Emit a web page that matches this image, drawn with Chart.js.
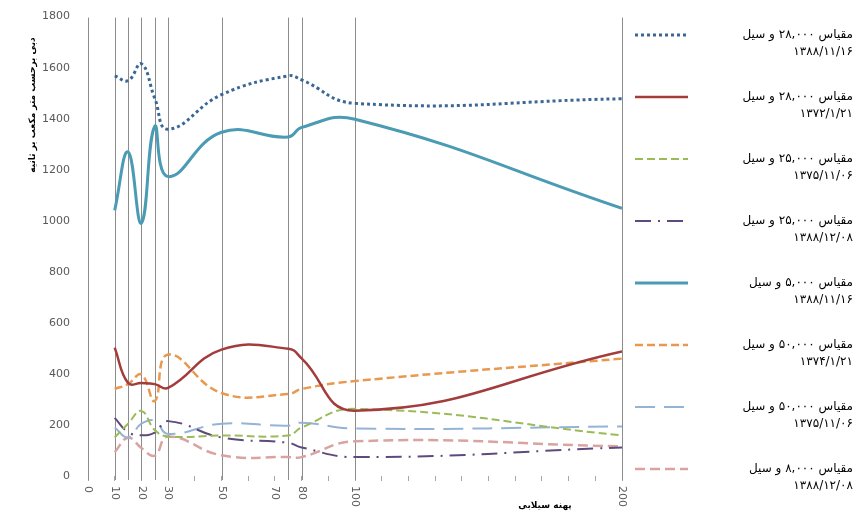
<!DOCTYPE html>
<html>
<head>
<meta charset="utf-8">
<script src="https://cdn.jsdelivr.net/npm/chart.js@4.4.1/dist/chart.umd.min.js"></script>
<style>
  html, body { margin: 0; padding: 0; background: #fff; }
  #wrap { position: relative; width: 858px; height: 515px; }
</style>
</head>
<body>
<div id="wrap"><canvas id="c" width="858" height="515"></canvas></div>
<script>
// ---- Data (discharge in m3/s at each cross-section station) ----
var STATIONS   = [10, 15, 20, 25, 30, 50, 75, 80, 100, 200];
var GRID_LINES = [0, 10, 15, 20, 25, 30, 50, 75, 80, 100, 200];
var X_LABELS   = [0, 10, 20, 30, 50, 70, 80, 100, 200];

var S1_DOTTED = [1568, 1549, 1615, 1480, 1359, 1494, 1568, 1552, 1460, 1478];
var S2_RED    = [503, 364, 364, 360, 345, 495, 499, 461, 256, 488];
var S3_GREEN  = [151, 205, 255, 180, 155, 159, 159, 190, 263, 159];
var S4_PURPLE = [228, 172, 160, 170, 215, 151, 130, 112, 74, 112];
var S5_TEAL   = [1041, 1270, 991, 1370, 1173, 1347, 1328, 1366, 1398, 1049];
var S6_ORANGE = [341, 360, 398, 294, 476, 325, 321, 341, 372, 460];
var S7_LBLUE  = [190, 151, 205, 217, 165, 205, 197, 209, 186, 194];
var S8_PINK   = [93, 150, 110, 80, 155, 81, 74, 74, 136, 116];

var NAMES = [
  "مقیاس ۲۸,۰۰۰ و سیل",
  "مقیاس ۲۸,۰۰۰ و سیل",
  "مقیاس ۲۵,۰۰۰ و سیل",
  "مقیاس ۲۵,۰۰۰ و سیل",
  "مقیاس ۵,۰۰۰ و سیل",
  "مقیاس ۵۰,۰۰۰ و سیل",
  "مقیاس ۵۰,۰۰۰ و سیل",
  "مقیاس ۸,۰۰۰ و سیل",
];
var DATES = [
  "۱۳۸۸/۱۱/۱۶", "۱۳۷۲/۱/۲۱", "۱۳۷۵/۱۱/۰۶", "۱۳۸۸/۱۲/۰۸",
  "۱۳۸۸/۱۱/۱۶", "۱۳۷۴/۱/۲۱", "۱۳۷۵/۱۱/۰۶", "۱۳۸۸/۱۲/۰۸",
];

var Y_TITLE = "دبی برحسب متر مکعب بر ثانیه";
var X_TITLE = "پهنه سیلابی";

// ---- Styles ----
var STYLES = [
  { color: "#3B6796", width: 3,   dash: [3, 3] },
  { color: "#A23D3B", width: 2.5, dash: [] },
  { color: "#9BBB59", width: 2,   dash: [8, 4] },
  { color: "#5E4A7D", width: 2,   dash: [16, 7, 2, 7] },
  { color: "#4A9BB3", width: 3,   dash: [] },
  { color: "#E8994F", width: 2.5, dash: [8, 4] },
  { color: "#95B3D7", width: 2,   dash: [20, 9] },
  { color: "#D9A3A1", width: 2.5, dash: [10, 5] },
];
var SERIES = [S1_DOTTED, S2_RED, S3_GREEN, S4_PURPLE, S5_TEAL, S6_ORANGE, S7_LBLUE, S8_PINK];

function points(values) {
  return STATIONS.map(function(x, i) { return { x: x, y: values[i] }; });
}

var datasets = SERIES.map(function(vals, i) {
  var st = STYLES[i];
  return {
    label:          NAMES[i] + " " + DATES[i],
    data:           points(vals),
    borderColor:    st.color,
    borderWidth:    st.width,
    borderDash:     st.dash,
    borderCapStyle: "butt",
    pointRadius:    0,
    fill:           false,
    tension:        0.45,
  };
});

var FONT = "'DejaVu Sans', sans-serif";

var extrasPlugin = {
  id: "extras",
  beforeDatasetsDraw: function(chart) {
    var ctx = chart.ctx, x = chart.scales.x, area = chart.chartArea;
    ctx.save();
    ctx.strokeStyle = "#8c8c8c";
    ctx.lineWidth = 1;
    GRID_LINES.forEach(function(v) {
      var px = Math.round(x.getPixelForValue(v)) + 0.5;
      ctx.beginPath();
      ctx.moveTo(px, area.top + 1);
      ctx.lineTo(px, area.bottom + 4);
      ctx.stroke();
    });
    ctx.restore();
  },
  afterDraw: function(chart) {
    var ctx = chart.ctx, x = chart.scales.x, area = chart.chartArea;
    ctx.save();

    // x tick labels, rotated clockwise
    ctx.fillStyle = "#595959";
    ctx.font = "11px " + FONT;
    ctx.textAlign = "left";
    ctx.textBaseline = "middle";
    X_LABELS.forEach(function(v) {
      ctx.save();
      ctx.translate(x.getPixelForValue(v), area.bottom + 10);
      ctx.rotate(Math.PI / 2);
      ctx.fillText(String(v), 0, 0);
      ctx.restore();
    });

    // axis titles
    ctx.fillStyle = "#000";
    ctx.font = "bold 9px " + FONT;
    ctx.textAlign = "center";
    ctx.fillText(X_TITLE, 545, 506);
    ctx.save();
    ctx.translate(33, 105);
    ctx.rotate(-Math.PI / 2);
    ctx.fillText(Y_TITLE, 0, 0);
    ctx.restore();

    // legend
    STYLES.forEach(function(st, i) {
      var cy = 35 + i * 62;
      ctx.save();
      ctx.strokeStyle = st.color;
      ctx.lineWidth = st.width;
      ctx.setLineDash(st.dash);
      ctx.beginPath();
      ctx.moveTo(635, cy);
      ctx.lineTo(688, cy);
      ctx.stroke();
      ctx.restore();

      ctx.fillStyle = "#000";
      ctx.font = "12px " + FONT;
      ctx.direction = "rtl";
      ctx.textAlign = "right";
      ctx.fillText(NAMES[i], 853, cy);
      ctx.fillText(DATES[i], 853, cy + 17);
    });
    ctx.restore();
  },
};

new Chart(document.getElementById("c"), {
  type: "line",
  data: { datasets: datasets },
  options: {
    responsive:       false,
    animation:        false,
    devicePixelRatio: 1,
    layout: { padding: { left: 0, top: 11, right: 236, bottom: 0 } },
    plugins: {
      legend:  { display: false },
      tooltip: { enabled: false },
    },
    scales: {
      x: {
        type: "linear",
        min:  0,
        max:  200,
        ticks:  { display: false, stepSize: 10 },
        grid:   { drawOnChartArea: false, drawTicks: true, tickLength: 5, color: "#a6a6a6" },
        border: { display: false },
        afterFit: function(scale) { scale.height = 39; },
      },
      y: {
        min: 0,
        max: 1800,
        ticks: {
          stepSize: 200,
          color:    "#595959",
          padding:  10,
          font:     { family: FONT, size: 11 },
          callback: function(v) { return String(v); },
        },
        grid:   { display: false },
        border: { display: false },
        afterFit: function(scale) { scale.width = 88; },
      },
    },
  },
  plugins: [extrasPlugin],
});
</script>
</body>
</html>
